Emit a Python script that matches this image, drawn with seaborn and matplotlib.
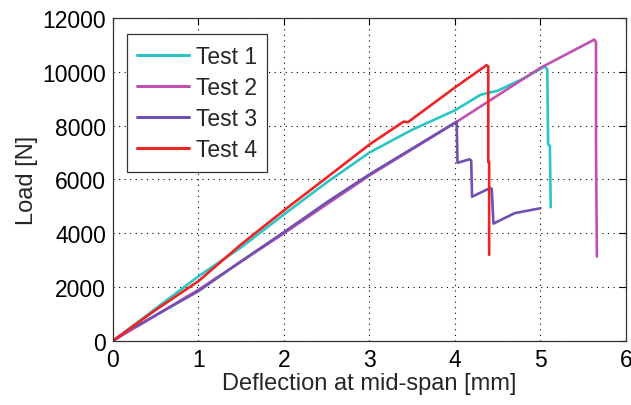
import pandas as pd
import matplotlib
matplotlib.use('Agg')
import matplotlib.pyplot as plt
import seaborn as sns

# deflection [mm] / load [N]
t1_x = [0, 0.5, 1, 1.5, 2, 2.5, 3, 3.5, 4, 4.3, 4.5, 4.8, 5.05, 5.08, 5.09, 5.11, 5.12]
t1_y = [0, 1200, 2400, 3480, 4700, 5890, 7000, 7850, 8570, 9150, 9300, 9750, 10200, 10100, 7300, 7250, 4970]

t2_x = [0, 0.5, 1, 2, 3, 4, 5, 5.63, 5.65, 5.65, 5.66]
t2_y = [0, 950, 1900, 4000, 6150, 8100, 10150, 11200, 11100, 7200, 3130]

t3_x = [0, 0.2, 0.3, 0.5, 1, 1.5, 2, 2.5, 3, 3.5, 4.02, 4.03, 4.17, 4.19, 4.2, 4.41, 4.43, 4.45, 4.7, 5.0]
t3_y = [0, 450, 580, 950, 1850, 2960, 4040, 5150, 6190, 7150, 8150, 6620, 6750, 6700, 5360, 5680, 5650, 4360, 4750, 4930]

t4_x = [0, 0.5, 1, 1.5, 2, 2.5, 3, 3.4, 3.45, 4, 4.37, 4.39, 4.39, 4.4, 4.4]
t4_y = [0, 1150, 2220, 3590, 4850, 6070, 7300, 8150, 8130, 9420, 10250, 10200, 6650, 6650, 3200]

tests = ['Test 1', 'Test 2', 'Test 3', 'Test 4']
colors = {'Test 1': '#2cc4c4', 'Test 2': '#c051b2', 'Test 3': '#7050b0', 'Test 4': '#ee2424'}

frames = []
for name, xs, ys in zip(tests, [t1_x, t2_x, t3_x, t4_x], [t1_y, t2_y, t3_y, t4_y]):
    frames.append(pd.DataFrame({'x': xs, 'y': ys, 'test': name}))
df = pd.concat(frames, ignore_index=True)

sns.set_style('white')
plt.rcParams['font.family'] = ['Liberation Sans', 'DejaVu Sans']

fig = plt.figure(figsize=(6.31, 4.06), dpi=100)
ax = fig.add_axes([0.179, 0.158, 0.813, 0.795])

sns.lineplot(data=df, x='x', y='y', hue='test', palette=colors, sort=False,
             estimator=None, linewidth=1.9, ax=ax)

ax.set_xlim(0, 6)
ax.set_ylim(0, 12000)
ax.set_xticks(range(0, 7))
ax.set_yticks(range(0, 12001, 2000))
ax.grid(True, linestyle=(0, (1, 4)), color='black', linewidth=0.8)
ax.tick_params(direction='in', top=True, right=True, length=5, labelsize=16.5,
               colors='black', pad=5)
for s in ax.spines.values():
    s.set_color('#333333')
    s.set_linewidth(0.9)

ax.set_xlabel('Deflection at mid-span [mm]', fontsize=17, labelpad=1)
ax.set_ylabel('Load [N]', fontsize=17, labelpad=3)

leg = ax.legend(loc='upper left', fontsize=16.5, frameon=True, fancybox=False,
                handlelength=2.25, handletextpad=0.3, borderpad=0.45,
                labelspacing=0.36, borderaxespad=0,
                bbox_to_anchor=(0.027, 0.950))
leg.get_frame().set_edgecolor('#333333')
leg.get_frame().set_linewidth(0.9)
leg.get_frame().set_alpha(1)
for line in leg.get_lines():
    line.set_linewidth(2.2)

fig.savefig('out.png', dpi=100)
